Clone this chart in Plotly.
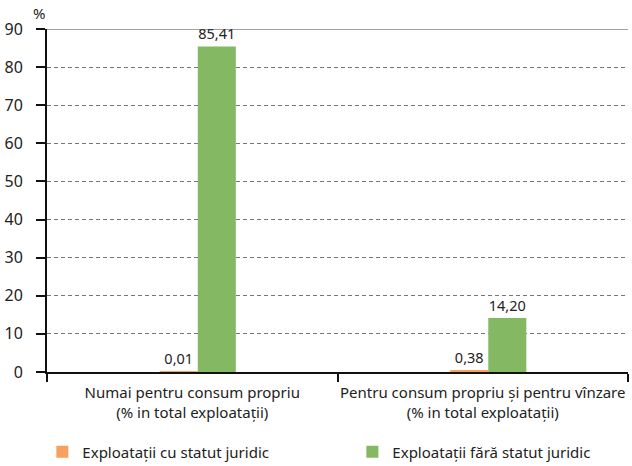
import plotly.graph_objects as go

categories = ["Numai pentru consum propriu<br>(% in total exploatații)",
              "Pentru consum propriu și pentru vînzare<br>(% in total exploatații)"]
series_names = ["Exploatații cu statut juridic", "Exploatații fără statut juridic"]
with_status = [0.01, 0.38]
without_status = [85.41, 14.20]
y_ticks = [0, 10, 20, 30, 40, 50, 60, 70, 80, 90]

FONT = "Noto Sans"
BAR_W = 0.131
fig = go.Figure()
fig.add_trace(go.Bar(x=categories, y=with_status, name=series_names[0], legend="legend",
                     width=BAR_W, offset=-0.112,
                     marker=dict(color="#F8A05E", line=dict(width=0)),
                     texttemplate="%{y:.2f}", textposition="outside",
                     textfont=dict(size=14.5, color="#222"), cliponaxis=False))
fig.add_trace(go.Bar(x=categories, y=without_status, name=series_names[1], legend="legend2",
                     width=BAR_W, offset=0.019,
                     marker=dict(color="#84B862", line=dict(width=0)),
                     texttemplate="%{y:.2f}", textposition="outside",
                     textfont=dict(size=14.5, color="#222"), cliponaxis=False))

leg_common = dict(orientation="h", yanchor="top", xanchor="left",
                  font=dict(size=15, family=FONT), itemclick=False, bgcolor="rgba(0,0,0,0)")
fig.update_layout(
    width=632, height=466,
    barmode="overlay",
    separators=", ",
    plot_bgcolor="white", paper_bgcolor="white",
    font=dict(family=FONT, size=14, color="#222"),
    margin=dict(l=47, r=4, t=29, b=94, autoexpand=False),
    showlegend=True,
    legend=dict(x=-0.008, y=-0.185, **leg_common),
    legend2=dict(x=0.5256, y=-0.185, **leg_common),
    xaxis=dict(showline=True, linecolor="#111", linewidth=2, automargin=False,
               ticks="outside", tickson="boundaries", ticklen=8, tickcolor="#111", tickwidth=2,
               ticklabelstandoff=6, tickangle=0, tickfont=dict(size=15, family=FONT)),
    yaxis=dict(range=[0, 90], tickvals=y_ticks, showline=True, linecolor="#111", linewidth=2,
               automargin=False,
               ticks="outside", ticklen=9, tickcolor="#111", tickwidth=2, ticklabelstandoff=10,
               showgrid=True, gridcolor="#777", griddash="4px,3px", gridwidth=1,
               zeroline=False, tickfont=dict(size=16, family=FONT)),
    shapes=[dict(type="line", xref="paper", yref="y", x0=0, x1=1, y0=90, y1=90,
                 line=dict(color="#444", width=1))],
    annotations=[dict(text="%", xref="paper", yref="paper", x=0, y=1, xanchor="right",
                      yanchor="bottom", yshift=4, showarrow=False, font=dict(size=15))],
)
fig.write_html("out.html", config={"displayModeBar": False},
               post_script="document.body.style.margin='0';")
